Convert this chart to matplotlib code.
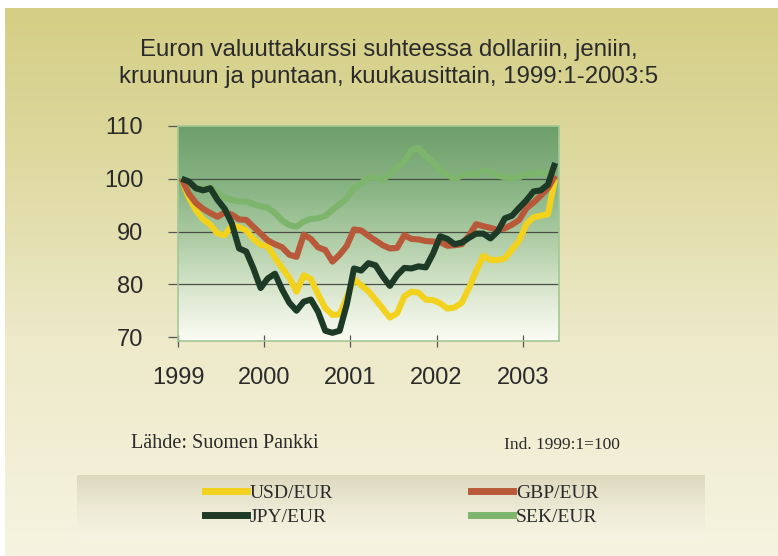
import numpy as np
import matplotlib
matplotlib.use("Agg")
import matplotlib.pyplot as plt
from matplotlib import font_manager
from matplotlib.colors import LinearSegmentedColormap
from matplotlib.lines import Line2D

# monthly index values, 1999:1 = 100, months 1999:1 ... 2003:5
start_year = 1999
usd = [100, 96.5, 94.0, 92.3, 91.3, 89.6, 89.3, 91.2, 90.8, 90.2, 88.6, 87.5,
       87.2, 85.0, 83.1, 81.2, 78.6, 81.7, 81.0, 78.1, 75.5, 74.2, 74.3, 77.5,
       81.0, 79.8, 78.7, 77.1, 75.4, 73.7, 74.5, 77.7, 78.6, 78.4, 77.1, 77.0,
       76.4, 75.4, 75.6, 76.5, 79.3, 82.5, 85.4, 84.6, 84.6, 84.9, 86.6, 88.3,
       91.4, 92.7, 93.0, 93.3, 100.0]
jpy = [100, 99.5, 98.2, 97.8, 98.2, 96.0, 94.3, 91.5, 86.8, 86.2, 83.0, 79.3,
       81.1, 82.0, 79.0, 76.5, 75.0, 76.7, 77.1, 74.8, 71.2, 70.8, 71.2, 76.2,
       83.0, 82.6, 84.0, 83.6, 81.5, 79.7, 81.7, 83.1, 83.0, 83.4, 83.2, 85.8,
       89.1, 88.6, 87.6, 87.9, 88.8, 89.6, 89.6, 88.7, 90.0, 92.5, 93.0, 94.5,
       95.9, 97.6, 97.8, 98.9, 103.0]
gbp = [100, 97.2, 95.4, 94.3, 93.5, 92.8, 93.6, 93.2, 92.3, 92.2, 90.9, 89.6,
       88.3, 87.6, 87.0, 85.6, 85.2, 89.4, 88.6, 87.0, 86.5, 84.3, 85.6, 87.3,
       90.4, 90.2, 89.2, 88.3, 87.4, 86.8, 86.9, 89.3, 88.6, 88.5, 88.2, 88.1,
       88.0, 87.3, 87.4, 87.6, 89.2, 91.4, 91.0, 90.7, 90.3, 90.6, 91.3, 92.2,
       94.4, 95.5, 96.8, 98.2, 100.6]
sek = [100, 98.5, 98.2, 98.0, 98.4, 97.4, 96.4, 96.0, 95.7, 95.7, 95.2, 94.8,
       94.5, 93.5, 92.1, 91.2, 90.9, 91.9, 92.4, 92.5, 93.0, 94.1, 95.2, 96.3,
       98.3, 99.2, 100.2, 100.3, 99.7, 101.0, 102.0, 103.3, 105.4, 105.8, 104.3, 103.2,
       101.6, 100.7, 100.0, 100.6, 101.0, 100.6, 101.6, 101.4, 100.6, 100.3, 100.0, 100.3,
       100.9, 100.9, 101.3, 100.9, 101.4]
years = [1999, 2000, 2001, 2002, 2003]
yticks = [70, 80, 90, 100, 110]

names = {f.name for f in font_manager.fontManager.ttflist}
narrow = 'Liberation Sans Narrow' if 'Liberation Sans Narrow' in names else 'Liberation Sans'

months = np.arange(len(usd))
x = start_year + (months + 0.5) / 12

fig = plt.figure(figsize=(7.78, 5.56), dpi=100, facecolor='white')

# page background (yellowish gradient)
bg = fig.add_axes([5 / 778, 0, 1 - 5 / 778, 1 - 8 / 556], zorder=-10)
bg_cmap = LinearSegmentedColormap.from_list(
    'bg', [(0, '#d4ce86'), (0.25, '#ddd89c'), (0.6, '#ede9c9'), (1, '#f6f4e0')])
bg.imshow(np.linspace(0, 1, 256).reshape(-1, 1), aspect='auto', cmap=bg_cmap,
          extent=[0, 1, 0, 1], origin='upper')
# legend band
band_cmap = LinearSegmentedColormap.from_list(
    'band', [(0, '#dedabf'), (0.5, '#ece9d4'), (1, '#f6f4e2')])
bg.imshow(np.linspace(0, 1, 64).reshape(-1, 1), aspect='auto', cmap=band_cmap,
          extent=[72 / 773, 700 / 773, 1 - 530 / 548, 1 - 468 / 548], origin='upper')
bg.set_xlim(0, 1)
bg.set_ylim(0, 1)
bg.axis('off')

ax = fig.add_axes([178 / 778, 1 - 341 / 556, 381 / 778, 215 / 556])
x0, x1 = 1999, 1999 + 381 / 86.2
y0, y1 = 69.25, 110
plot_cmap = LinearSegmentedColormap.from_list(
    'plot', [(0, '#6e9f6a'), (0.3, '#8ab585'), (0.55, '#b2cfa9'),
             (0.8, '#dfead4'), (1, '#fbfcf4')])
ax.imshow(np.linspace(0, 1, 256).reshape(-1, 1), aspect='auto', cmap=plot_cmap,
          extent=[x0, x1, y0, y1], origin='upper', zorder=0)

for v in [80, 90, 100]:
    ax.axhline(v, color='#4a4f45', lw=0.9, zorder=1)

ax.plot(x, sek, color='#7db56c', lw=4.4, zorder=2, solid_capstyle='butt')
ax.plot(x, usd, color='#f2d21c', lw=4.4, zorder=3, solid_capstyle='butt')
ax.plot(x, gbp, color='#b85a3a', lw=4.4, zorder=4, solid_capstyle='butt')
ax.plot(x, jpy, color='#1d3a27', lw=4.4, zorder=5, solid_capstyle='butt')

ax.set_xlim(x0, x1)
ax.set_ylim(y0, y1)
ax.set_xticks(years)
ax.set_xticklabels([str(y) for y in years], family=narrow, fontsize=17, color='#2a2a2a')
ax.set_yticks(yticks)
ax.set_yticklabels([str(v) for v in yticks], family=narrow, fontsize=17, color='#2a2a2a')
ax.tick_params(axis='y', direction='out', length=7, width=0.9, color='#555555', pad=18)
ax.tick_params(axis='x', direction='inout', length=8, width=0.9, color='#555555', pad=15)
for s in ax.spines.values():
    s.set_color('#a3c795')
    s.set_linewidth(1.2)

fig.text(0.5, 1 - 50 / 556, 'Euron valuuttakurssi suhteessa dollariin, jeniin,',
         ha='center', va='center', family=narrow, fontsize=17.3, color='#2a2a2a')
fig.text(0.5, 1 - 77 / 556, 'kruunuun ja puntaan, kuukausittain, 1999:1-2003:5',
         ha='center', va='center', family=narrow, fontsize=17.3, color='#2a2a2a')

fig.text(131 / 778, 1 - 443 / 556, 'Lähde: Suomen Pankki', ha='left', va='center',
         family='Liberation Serif', fontsize=14.5, color='#2a2a2a')
fig.text(504 / 778, 1 - 445 / 556, 'Ind. 1999:1=100', ha='left', va='center',
         family='Liberation Serif', fontsize=12.5, color='#2a2a2a')

handles = [Line2D([], [], color='#f2d21c', lw=5),
           Line2D([], [], color='#1d3a27', lw=5),
           Line2D([], [], color='#b85a3a', lw=5),
           Line2D([], [], color='#7db56c', lw=5)]
labels = ['USD/EUR', 'JPY/EUR', 'GBP/EUR', 'SEK/EUR']
fig.legend(handles, labels, ncol=2, loc='center left',
           bbox_to_anchor=(205 / 778, 1 - 505 / 556), frameon=False,
           prop={'family': 'Liberation Serif', 'size': 14},
           handlelength=2.15, handletextpad=0.15, columnspacing=7.1,
           labelspacing=0.3, borderpad=0, borderaxespad=0, labelcolor='#2a2a2a')

fig.savefig('out.png', dpi=100, facecolor='white')
